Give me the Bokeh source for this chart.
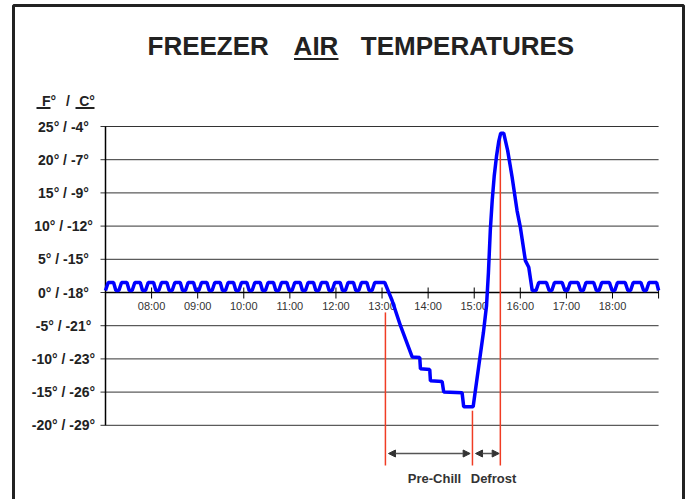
from bokeh.plotting import figure
from bokeh.models import Range1d, Arrow, NormalHead
from bokeh.core.properties import value
from bokeh.embed import file_html
from bokeh.resources import INLINE

# ---------------- data ----------------
# time in minutes after 07:00, temperature in °F
cycle_am_t = [0, 3.5, 10.5, 13.5, 17.4, 20.9, 27.9, 30.9, 34.7, 38.2, 45.2, 48.2,
              52.1, 55.6, 62.6, 65.6, 69.4, 72.9, 79.9, 82.9, 86.8, 90.3, 97.3, 100.3,
              104.1, 107.6, 114.6, 117.6, 121.5, 125.0, 132.0, 135.0, 138.8, 142.3, 149.3, 152.3,
              156.2, 159.7, 166.7, 169.7, 173.5, 177.0, 184.0, 187.0, 190.9, 194.4, 201.4, 204.4,
              208.2, 211.7, 218.7, 221.7, 225.6, 229.1, 236.1, 239.1, 242.9, 246.4, 253.4, 256.4,
              260.3, 263.8, 270.8, 273.8, 277.6, 281.1, 288.1, 291.1, 295.0, 298.5, 305.5, 308.5,
              312.3, 315.8, 322.8, 325.8, 329.7, 333.2, 340.2, 343.2, 347.0, 350.5]
cycle_am_f = [0.3, 1.5, 1.5, 0.3, 0.3, 1.5, 1.5, 0.3, 0.3, 1.5, 1.5, 0.3,
              0.3, 1.5, 1.5, 0.3, 0.3, 1.5, 1.5, 0.3, 0.3, 1.5, 1.5, 0.3,
              0.3, 1.5, 1.5, 0.3, 0.3, 1.5, 1.5, 0.3, 0.3, 1.5, 1.5, 0.3,
              0.3, 1.5, 1.5, 0.3, 0.3, 1.5, 1.5, 0.3, 0.3, 1.5, 1.5, 0.3,
              0.3, 1.5, 1.5, 0.3, 0.3, 1.5, 1.5, 0.3, 0.3, 1.5, 1.5, 0.3,
              0.3, 1.5, 1.5, 0.3, 0.3, 1.5, 1.5, 0.3, 0.3, 1.5, 1.5, 0.3,
              0.3, 1.5, 1.5, 0.3, 0.3, 1.5, 1.5, 0.3, 0.3, 1.5]

prechill_t = [363.5, 373.1, 384.0, 399.2, 409.1, 410.0, 422.1, 423.0, 438.2, 440.3,
              464.2, 466.3, 478.6]
prechill_f = [1.5, -1.2, -5.0, -9.7, -9.8, -11.5, -11.6, -13.3, -13.4, -15.0,
              -15.1, -17.2, -17.2]

defrost_t = [486.0, 492.0, 496.0, 498.5, 501.0, 503.5, 506.0, 509.0, 512.0, 514.5,
             518.4, 523.5, 529.3, 535.8, 540.1, 546.6, 551.0, 555.5]
defrost_f = [-11.0, -6.0, -2.0, 3.0, 9.5, 14.0, 17.5, 20.5, 22.8, 24.0,
             24.0, 21.4, 17.4, 12.3, 9.8, 4.8, 3.8, 0.3]

cycle_pm_t = [560.5, 564.0, 574.0, 577.5, 581.0, 584.5, 594.5, 598.0, 601.5, 605.0, 615.0, 618.5,
              622.0, 625.5, 635.5, 639.0, 642.5, 646.0, 656.0, 659.5, 663.0, 666.5, 676.5, 680.0,
              683.5, 687.0, 697.0, 700.5, 704.0, 707.5, 717.5, 720.0]
cycle_pm_f = [0.3, 1.5, 1.5, 0.3, 0.3, 1.5, 1.5, 0.3, 0.3, 1.5, 1.5, 0.3,
              0.3, 1.5, 1.5, 0.3, 0.3, 1.5, 1.5, 0.3, 0.3, 1.5, 1.5, 0.3,
              0.3, 1.5, 1.5, 0.3, 0.3, 1.5, 1.5, 0.3]

y_ticks = [-20, -15, -10, -5, 0, 5, 10, 15, 20, 25]
y_labels = ["-20° / -29°", "-15° / -26°", "-10° / -23°", "-5° / -21°", "0° / -18°",
            "5° / -15°", "10° / -12°", "15° / -9°", "20° / -7°", "25° / -4°"]

x_ticks = [60, 120, 180, 240, 300, 360, 420, 480, 540, 600, 660, 720]
x_label_pos = [60, 120, 180, 240, 300, 360, 420, 480, 540, 600, 660]
x_labels = ["08:00", "09:00", "10:00", "11:00", "12:00", "13:00",
            "14:00", "15:00", "16:00", "17:00", "18:00"]

prechill_start = 364.4
defrost_start = 477.7
defrost_end = 514.0

title_words = ["FREEZER", "AIR", "TEMPERATURES"]
unit_header = ["F°", "/", "C°"]
phase_labels = ["Pre-Chill", "Defrost"]

# ---------------- layout helpers (page pixels -> data) ----------------
W, H = 686, 499
X0_PX, Y0_PX = 105.0, 292.0      # page pixel of 07:00 and of 0 °F
MIN_PER_PX = 60 / 46.09          # minutes per pixel
PX_PER_F = 6.64                  # pixels per °F


def tx(px):
    return (px - X0_PX) * MIN_PER_PX


def fy(py):
    return (Y0_PX - py) / PX_PER_F


FONT = "Liberation Sans"

p = figure(width=W, height=H, output_backend="svg", toolbar_location=None,
           title=None, x_axis_location=None, y_axis_location=None,
           x_range=Range1d(tx(0), tx(W)), y_range=Range1d(fy(H), fy(0)),
           min_border=0)
p.min_border_left = p.min_border_right = p.min_border_top = p.min_border_bottom = 0
p.outline_line_color = None
p.background_fill_color = "white"
p.border_fill_color = "white"
p.grid.visible = False

# outer frame
p.line([tx(13), tx(13), tx(683), tx(683)], [fy(520), fy(5), fy(5), fy(520)],
       line_color="#222222", line_width=3)

# horizontal grid lines with a short tick to the left of the axis
n = len(y_ticks)
p.segment(x0=[tx(100)] * n, y0=y_ticks, x1=[x_ticks[-1]] * n, y1=y_ticks,
          line_color="#333333", line_width=1)

# y tick labels
p.text(x=[tx(63)] * n, y=y_ticks, text=y_labels,
       text_font=value(FONT), text_font_style="bold", text_font_size="14px",
       text_color="#222222", text_align="center", text_baseline="middle")

# y axis line
p.segment(x0=[0], y0=[y_ticks[0]], x1=[0], y1=[y_ticks[-1]], line_color="black", line_width=1.5)

# x axis at 0°F with ticks and labels
p.segment(x0=[0], y0=[0], x1=[x_ticks[-1]], y1=[0], line_color="black", line_width=1.5)
m = len(x_ticks)
p.segment(x0=x_ticks, y0=[fy(287)] * m, x1=x_ticks, y1=[fy(298)] * m,
          line_color="black", line_width=1)
p.text(x=x_label_pos, y=[fy(305.5)] * len(x_label_pos), text=x_labels,
       text_font=value(FONT), text_font_size="11px", text_color="#333333",
       text_align="center", text_baseline="middle")

# red phase markers
p.segment(x0=[prechill_start, defrost_start, defrost_end],
          y0=[-3.0, -17.8, 23.5],
          x1=[prechill_start, defrost_start, defrost_end],
          y1=[fy(465)] * 3,
          line_color="#F03C24", line_width=1.5)

# temperature line
all_t = cycle_am_t + prechill_t + defrost_t + cycle_pm_t
all_f = cycle_am_f + prechill_f + defrost_f + cycle_pm_f
p.line(all_t, all_f, line_color="#0000FF", line_width=3.5)

# phase arrows
ay = fy(453)
for x0, x1 in [(prechill_start + 4, defrost_start - 3), (defrost_start + 4, defrost_end - 1.5)]:
    p.add_layout(Arrow(x_start=x0, y_start=ay, x_end=x1, y_end=ay,
                       line_color="#555555", line_width=1.5,
                       start=NormalHead(size=7, fill_color="#333333", line_color="#333333"),
                       end=NormalHead(size=7, fill_color="#333333", line_color="#333333")))

p.text(x=[tx(434), tx(493)], y=[fy(477.8)] * 2, text=phase_labels,
       text_font=value(FONT), text_font_style="bold", text_font_size="13px",
       text_color="#333333", text_align="center", text_baseline="middle")

# title (AIR underlined)
p.text(x=[tx(207.7), tx(315.5), tx(467.0)], y=[fy(45.5)] * 3, text=title_words,
       text_font=value(FONT), text_font_style="bold", text_font_size="26px",
       text_color="#222222", text_align="center", text_baseline="middle")
p.segment(x0=[tx(293.5)], y0=[fy(58.5)], x1=[tx(338.0)], y1=[fy(58.5)],
          line_color="#222222", line_width=2)

# unit header (F and C underlined)
p.text(x=[tx(48.5), tx(67.5), tx(86.5)], y=[fy(100)] * 3, text=unit_header,
       text_font=value(FONT), text_font_style="bold", text_font_size="14px",
       text_color="#222222", text_align="center", text_baseline="middle")
p.segment(x0=[tx(36), tx(75)], y0=[fy(107.5)] * 2, x1=[tx(50), tx(94)], y1=[fy(107.5)] * 2,
          line_color="#222222", line_width=2)

open("out.html", "w").write(file_html(p, INLINE))
